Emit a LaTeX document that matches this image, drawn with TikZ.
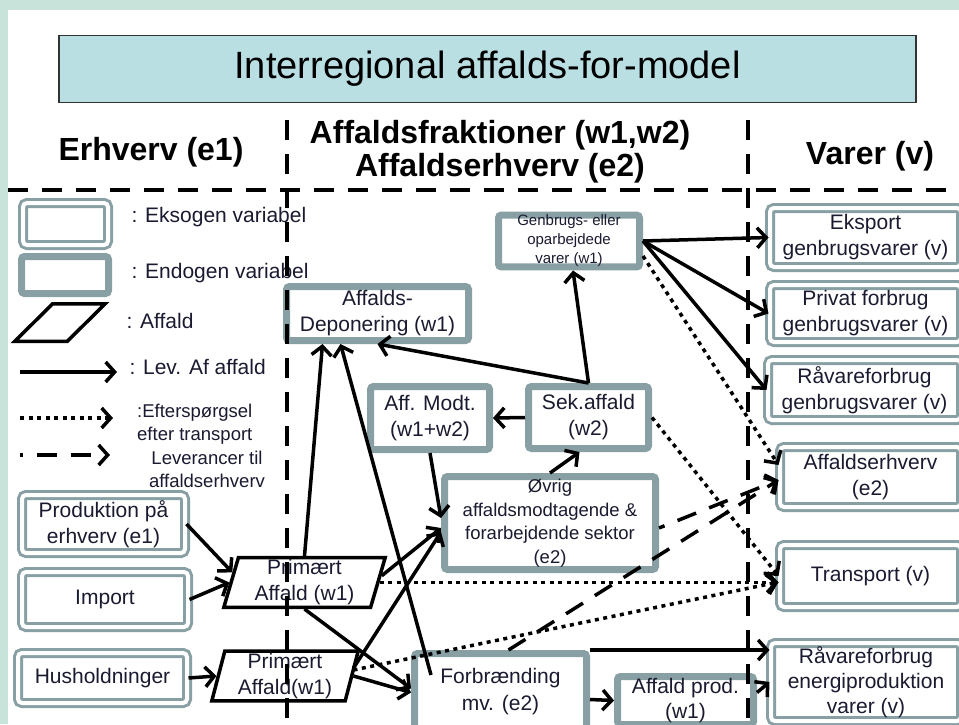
\documentclass[tikz,border=0pt]{standalone}
\usepackage{fontspec}
\setmainfont{Liberation Sans}
\usetikzlibrary{shapes.geometric,arrows.meta}

\definecolor{bggreen}{HTML}{C7E3DA}
\definecolor{titleblue}{HTML}{B9DFE3}
\definecolor{boxgray}{HTML}{88A0A3}
\definecolor{txt}{HTML}{1A1A30}

\tikzset{
  txt21/.style={font={\fontsize{21}{26}\selectfont}, text=txt},
  endo/.style={draw=boxgray, line width=7pt, rounded corners=3pt, fill=white, align=center, txt21, inner sep=0pt},
  ekso/.style={draw=boxgray, double=white, double distance=4pt, line width=3pt, rounded corners=4pt, fill=white, align=center, txt21, inner sep=0pt},
  affald/.style={trapezium, trapezium stretches=true, draw=black, line width=3.5pt, fill=white, align=center, txt21, inner sep=2pt},
  lev/.style={line width=3.5pt, -{Straight Barb[length=9pt,width=20pt]}},
  transp/.style={lev, dash pattern=on 4pt off 4.5pt},
  levaff/.style={lev, dash pattern=on 20pt off 14pt},
  delim/.style={line width=4.5pt, dash pattern=on 20pt off 14pt},
  head/.style={font={\fontsize{32}{36}\selectfont\bfseries}},
  legtxt/.style={font={\fontsize{21}{26}\selectfont}, text=txt},
  legsmall/.style={font={\fontsize{18.5}{23}\selectfont}, text=txt},
}

\begin{document}
\begin{tikzpicture}[x=1pt,y=-1pt]
\useasboundingbox (0,0) rectangle (959,724);
\clip (0,0) rectangle (959,724);
\fill[bggreen] (0,0) rectangle (959,724);
\fill[white] (8,10) rectangle (959,724);

\node[draw=black!80, fill=titleblue, line width=1.2pt, minimum width=857, minimum height=67, font={\fontsize{38}{42}\selectfont}] (title) at (487.5,69) {Interregional affalds-for-model};
\node[head] (erhverv) at (151,152) {Erhverv (e1)};
\node[head] (fraktion) at (500,135) {Affaldsfraktioner (w1,w2)};
\node[head] (afferhv) at (500,168) {Affaldserhverv (e2)};
\node[head] (varer) at (870,156) {Varer (v)};

\node[ekso, minimum width=85, minimum height=42] (legekso) at (65.5,224) {};
\node[endo, minimum width=87, minimum height=37] (legendo) at (65,275) {};
\node[affald, trapezium left angle=71, trapezium right angle=109, minimum width=90.5, minimum height=37.5] (legaff) at (60,322.5) {\strut};
\coordinate (la1) at (20,372); \coordinate (lb1) at (117,372);
\coordinate (la2) at (20,418); \coordinate (lb2) at (113,418);
\coordinate (la3) at (20,455); \coordinate (lb3) at (110,455);
\draw[lev] (la1) -- (lb1);
\draw[transp] (la2) -- (lb2);
\draw[levaff, dash phase=17pt] (la3) -- (lb3);
\node[legtxt, anchor=west] (legt1) at (128,217) {: Eksogen variabel};
\node[legtxt, anchor=west] (legt2) at (128,273) {: Endogen variabel};
\node[legtxt, anchor=west] (legt3) at (123,321) {: Affald};
\node[legtxt, anchor=west] (legt4) at (126,367) {: Lev. Af affald};
\node[legsmall, anchor=west, align=left, inner sep=0pt] (legt5) at (137,424) {:Efterspørgsel\\efter transport};
\node[legsmall, align=center, inner sep=0pt] (legt6) at (207,469) {Leverancer til\\affaldserhverv};

\node[ekso, minimum width=163, minimum height=58] (prod) at (103.5,524) {Produktion på\\erhverv (e1)};
\node[ekso, minimum width=166, minimum height=55] (import) at (105,599.5) {Import};
\node[ekso, minimum width=169, minimum height=50] (hush) at (102.5,678) {Husholdninger};
\node[affald, trapezium left angle=77, trapezium right angle=103, minimum width=161.5, minimum height=45.5] (prim1) at (304.5,582.5) {Primært\\Affald (w1)};
\node[affald, trapezium left angle=78, trapezium right angle=102, minimum width=146.5, minimum height=44.5] (prim2) at (285,676) {Primært\\Affald(w1)};

\node[endo, minimum width=182, minimum height=54] (depon) at (377.5,313.5) {Affalds-\\Deponering (w1)};
\node[endo, minimum width=141, minimum height=51, font={\fontsize{15}{19}\selectfont}] (genbrug) at (569,241) {Genbrugs- eller\\oparbejdede\\varer (w1)};
\node[endo, minimum width=119, minimum height=63] (affmodt) at (430,418) {Aff. Modt.\\(w1+w2)};
\node[endo, minimum width=120, minimum height=62] (sekaff) at (588.5,417.5) {Sek.affald\\(w2)};
\node[endo, minimum width=211, minimum height=93, font={\fontsize{18.5}{23.5}\selectfont}] (ovrig) at (550,523) {Øvrig\\affaldsmodtagende \&\\forarbejdende sektor\\(e2)};
\node[endo, minimum width=172, minimum height=76, font={\fontsize{21}{27}\selectfont}] (forbr) at (500.5,691.5) {Forbrænding\\mv. (e2)};
\node[endo, minimum width=136, minimum height=48, font={\fontsize{21}{25}\selectfont}] (affprod) at (685.5,700.5) {Affald prod.\\(w1)};

\node[ekso, minimum width=191, minimum height=59] (eksport) at (865.5,237.5) {Eksport\\genbrugsvarer (v)};
\node[ekso, minimum width=191, minimum height=57] (privat) at (865.5,313.5) {Privat forbrug\\genbrugsvarer (v)};
\node[ekso, minimum width=193, minimum height=60] (ravgen) at (864.5,390) {Råvareforbrug\\genbrugsvarer (v)};
\node[ekso, minimum width=181, minimum height=60] (affe2) at (870.5,477) {Affaldserhverv\\(e2)};
\node[ekso, minimum width=181, minimum height=62] (transport) at (870.5,576) {Transport (v)};
\node[ekso, minimum width=190, minimum height=78, font={\fontsize{21}{25}\selectfont}] (raven) at (866,682) {Råvareforbrug\\energiproduktion\\varer (v)};

\draw[lev] (prod.east) -- (prim1.172);
\draw[lev] (import.east) -- (prim1.west);
\draw[lev] (hush.east) -- (prim2.west);
\draw[lev] (prim1.north) -- ([xshift=-55pt]depon.south);
\draw[lev] ([xshift=20pt,yshift=-25pt]forbr.north west) -- ([xshift=-37pt]depon.south);
\draw[lev] (sekaff.north) -- (depon.south);
\draw[lev] (sekaff.north) -- ([xshift=4pt]genbrug.south);
\draw[lev] (sekaff.west) -- (affmodt.east);
\draw[lev] (affmodt.south) -- ([yshift=5pt]ovrig.west);
\draw[lev] (ovrig.north) -- ([xshift=-9pt]sekaff.south);
\draw[lev] (prim1.5) -- ([yshift=-5pt]ovrig.west);
\draw[lev] ([yshift=8pt]prim2.east) -- ([yshift=-9pt]ovrig.west);
\draw[lev] (prim1.south) -- ([yshift=3pt]forbr.west);
\draw[lev] (prim2.east) -- ([yshift=-1pt]forbr.west);
\draw[lev] ([yshift=-8pt]forbr.east) -- (affprod.west);
\draw[lev] (forbr.north east) -- (forbr.north east -| raven.west);
\draw[lev] ([yshift=8pt]affprod.east) -- (raven.west);
\draw[lev] (genbrug.east) -- (eksport.west);
\draw[lev] (genbrug.east) -- (privat.west);
\draw[lev] (genbrug.east) -- (ravgen.west);

\draw[transp] ([yshift=-15pt]genbrug.east) -- ([yshift=12pt]affe2.west);
\draw[transp] (sekaff.east) -- (transport.west);
\draw[transp] (prim1.east) -- (prim1.east -| transport.west);
\draw[transp] ([yshift=6pt]prim2.east) -- ([yshift=-6pt]transport.west);

\draw[levaff] ([xshift=8pt]forbr.north) -- ([yshift=-3pt]affe2.west);
\draw[levaff, dash phase=14pt] ([yshift=-5pt]ovrig.east) -- ([yshift=-3pt]affe2.west);

\draw[delim] (8,190) -- (959,190);
\draw[delim] (287,120) -- (287,724);
\draw[delim] (748,120) -- (748,724);
\end{tikzpicture}
\end{document}
